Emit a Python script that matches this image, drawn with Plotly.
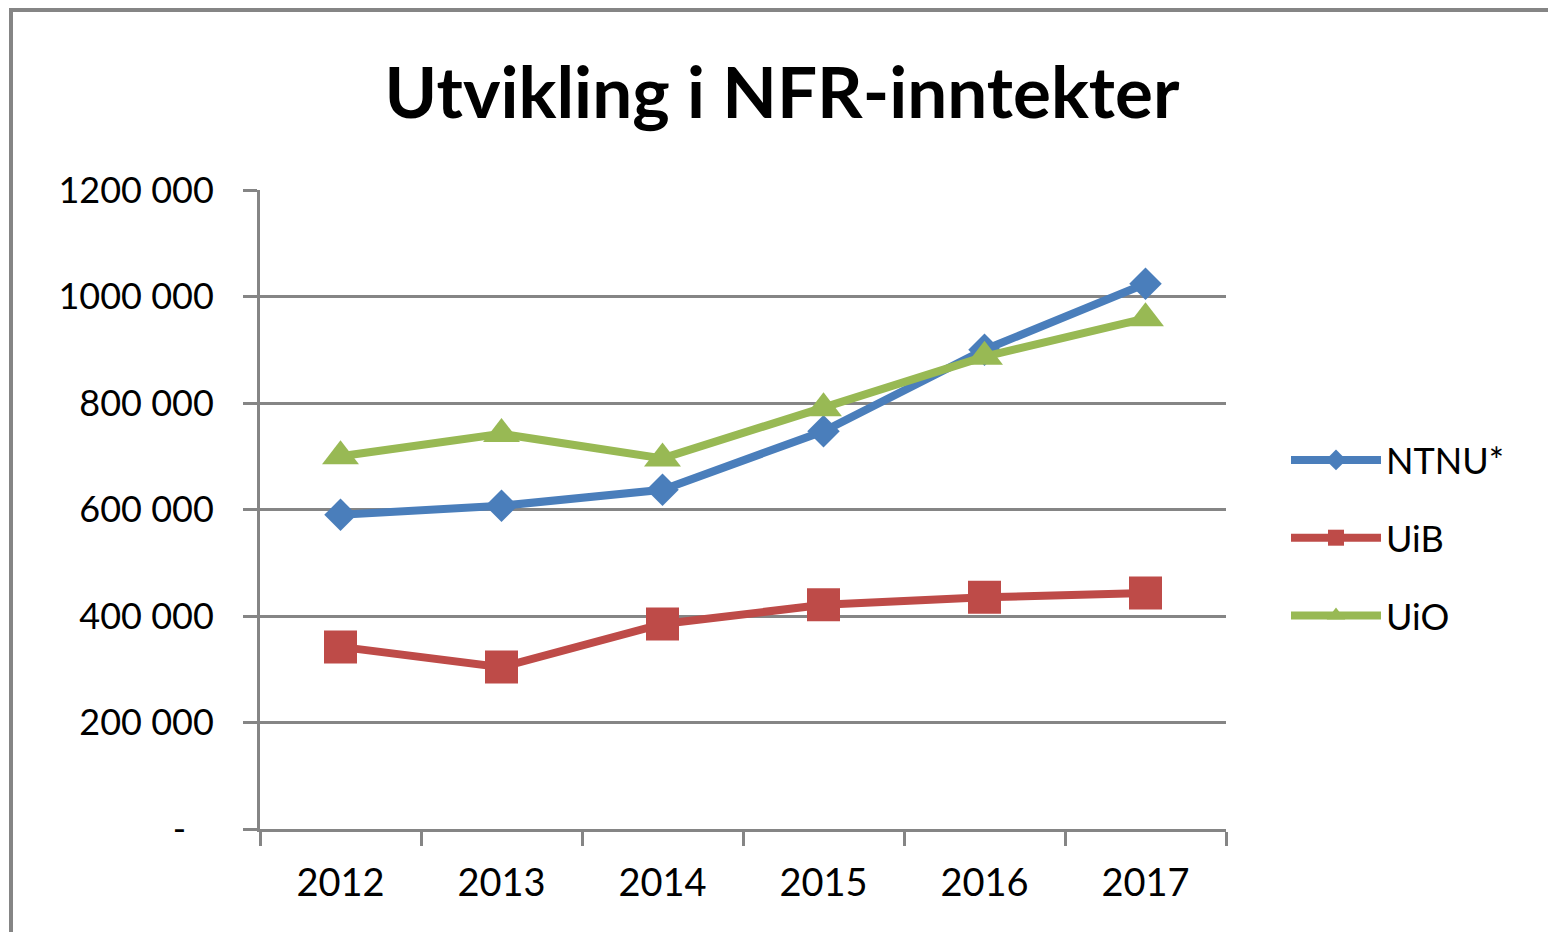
import plotly.graph_objects as go

years = ["2012", "2013", "2014", "2015", "2016", "2017"]
ntnu = [590000, 607000, 637000, 747000, 900000, 1024000]
uib = [342000, 304000, 385000, 421000, 435000, 443000]
uio = [700000, 742000, 696000, 790000, 887000, 959000]

y_tickvals = [0, 200000, 400000, 600000, 800000, 1000000, 1200000]
y_ticktext = ["-\u00a0\u00a0\u00a0", "200 000", "400 000", "600 000", "800 000", "1000 000", "1200 000"]

OFF = 8  # page body margin
W, H = 1556 - OFF, 932 - OFF
L, R, T, B = 260 - OFF, 1226 - OFF, 190 - OFF, 829 - OFF
FONT = "Lato"
GRID = "#858585"

fig = go.Figure()
series = [
    ("NTNU*", ntnu, "#4A7EBB", "diamond", 25),
    ("UiB", uib, "#BE4B48", "square", 33),
    ("UiO", uio, "#98B954", "triangle-up", 32),
]
for name, vals, col, sym, sz in series:
    fig.add_trace(go.Scatter(
        x=years, y=vals, name=name, mode="lines+markers",
        line=dict(color=col, width=8),
        marker=dict(symbol=sym, size=sz, color=col, line=dict(width=0)),
        legendgroup=name,
    ))

def px_x(p):
    p -= OFF
    return (p - L) / (R - L)

def px_y(p):
    p -= OFF
    return (B - p) / (B - T)

fig.update_layout(
    width=W, height=H,
    margin=dict(l=L, r=W - R, t=T, b=H - B, autoexpand=False),
    paper_bgcolor="white", plot_bgcolor="white",
    title=dict(text="<b>Utvikling i NFR-inntekter</b>", x=px_x(782), xref="paper",
               xanchor="center", y=1 - (93 - OFF) / H, yanchor="middle",
               font=dict(family=FONT, size=71, color="black")),
    font=dict(family=FONT, color="black"),
    showlegend=True,
    legend=dict(x=px_x(1286), y=px_y(430), xanchor="left", yanchor="top",
                font=dict(family=FONT, size=36, color="black"),
                itemwidth=90, tracegroupgap=28, bgcolor="rgba(0,0,0,0)"),
    shapes=[dict(type="rect", xref="paper", yref="paper",
                 x0=px_x(11), x1=px_x(1554), y0=px_y(945), y1=px_y(10),
                 line=dict(color=GRID, width=4), fillcolor="rgba(0,0,0,0)",
                 layer="below")],
)
fig.update_xaxes(
    type="category", range=[-0.5, 5.5], tickson="boundaries",
    showline=True, linecolor=GRID, linewidth=3,
    ticks="outside", ticklen=14, tickwidth=3, tickcolor=GRID,
    showgrid=False, tickfont=dict(family=FONT, size=38, color="black"),
    ticklabelstandoff=18,
)
fig.update_yaxes(
    range=[0, 1200000], tickvals=y_tickvals, ticktext=y_ticktext,
    showline=True, linecolor=GRID, linewidth=3,
    ticks="outside", ticklen=14, tickwidth=3, tickcolor=GRID,
    showgrid=True, gridcolor=GRID, gridwidth=3, zeroline=False,
    tickfont=dict(family=FONT, size=36, color="black"),
    ticklabelstandoff=22,
)

fig.write_html("out.html")
